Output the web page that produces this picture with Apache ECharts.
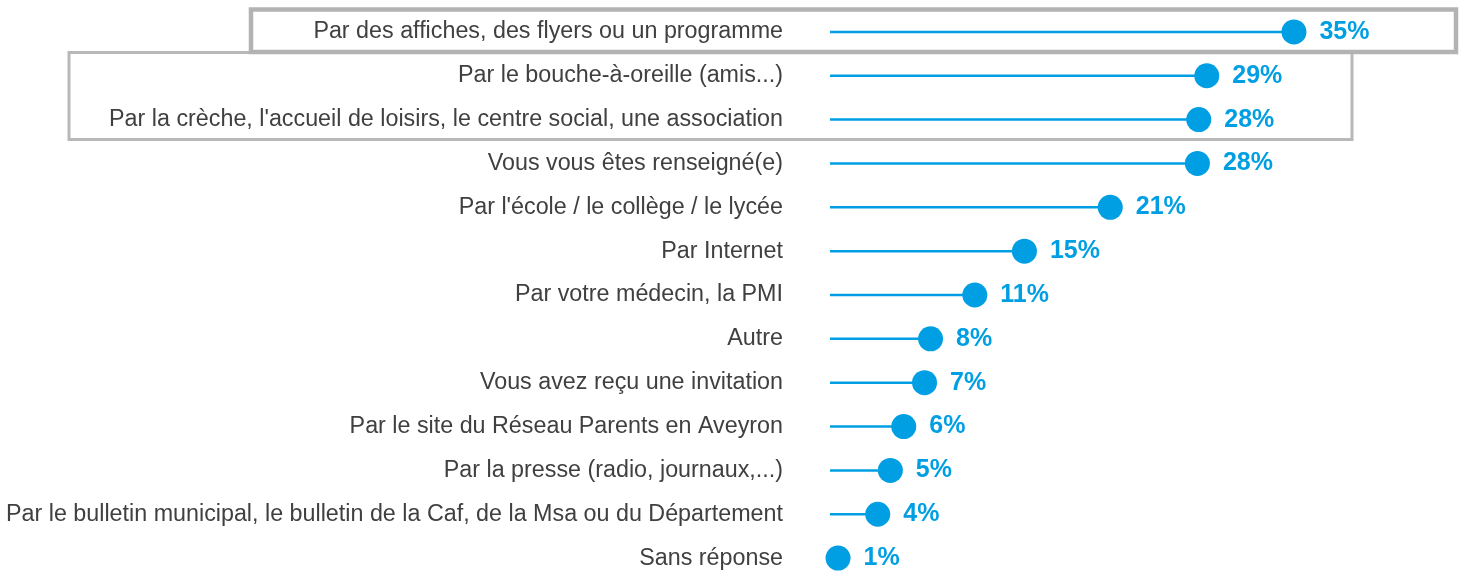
<!DOCTYPE html>
<html>
<head>
<meta charset="utf-8">
<script src="https://cdn.jsdelivr.net/npm/echarts@6/dist/echarts.min.js"></script>
<style>
  html, body { margin: 0; padding: 0; background: #fff; }
  #main { width: 1460px; height: 576px; }
</style>
</head>
<body>
<div id="main"></div>
<script>
// catégories (de haut en bas)
const categories = [
    'Par des affiches, des flyers ou un programme',
    'Par le bouche-à-oreille (amis...)',
    "Par la crèche, l'accueil de loisirs, le centre social, une association",
    'Vous vous êtes renseigné(e)',
    "Par l'école / le collège / le lycée",
    'Par Internet',
    'Par votre médecin, la PMI',
    'Autre',
    'Vous avez reçu une invitation',
    'Par le site du Réseau Parents en Aveyron',
    'Par la presse (radio, journaux,...)',
    'Par le bulletin municipal, le bulletin de la Caf, de la Msa ou du Département',
    'Sans réponse'
];
// valeurs en %
const values = [35.0, 28.5, 27.9, 27.8, 21.3, 14.9, 11.2, 7.9, 7.45, 5.9, 4.9, 3.96, 1.0];

const blue = '#009FE3';
const font = "'Liberation Sans', Arial, sans-serif";
const myChart = echarts.init(document.getElementById('main'));

const option = {
    animation: false,
    grid: { left: 830, top: 10, width: 531, height: 570, outerBoundsMode: 'none' },
    xAxis: {
        type: 'value',
        min: 0.4,
        max: 40,
        show: false
    },
    yAxis: {
        type: 'category',
        inverse: true,
        data: categories,
        axisLine: { show: false },
        axisTick: { show: false },
        axisLabel: {
            margin: 47,
            color: '#404040',
            fontFamily: font,
            fontSize: 23.3,
            padding: [4, 0, 0, 0]
        }
    },
    series: [
        {
            type: 'bar',
            data: values,
            barWidth: 2.5,
            itemStyle: { color: blue },
            silent: true,
            z: 1
        },
        {
            type: 'scatter',
            data: values,
            symbol: 'circle',
            symbolSize: 25,
            itemStyle: { color: blue, opacity: 1 },
            z: 5,
            label: {
                show: true,
                position: 'right',
                distance: 13,
                color: blue,
                fontFamily: font,
                fontWeight: 'bold',
                fontSize: 25,
                formatter: p => Math.round(p.value) + '%'
            }
        }
    ],
    // encadrés gris
    graphic: [
        {
            type: 'rect',
            shape: { x: 251, y: 9.5, width: 1205, height: 42.5 },
            style: { fill: 'none', stroke: '#b3b3b3', lineWidth: 4.5 },
            z: 10
        },
        {
            type: 'rect',
            shape: { x: 69, y: 52.5, width: 1283, height: 87 },
            style: { fill: 'none', stroke: '#b8b8b8', lineWidth: 3 },
            z: 9
        }
    ]
};

option && myChart.setOption(option);
</script>
</body>
</html>
